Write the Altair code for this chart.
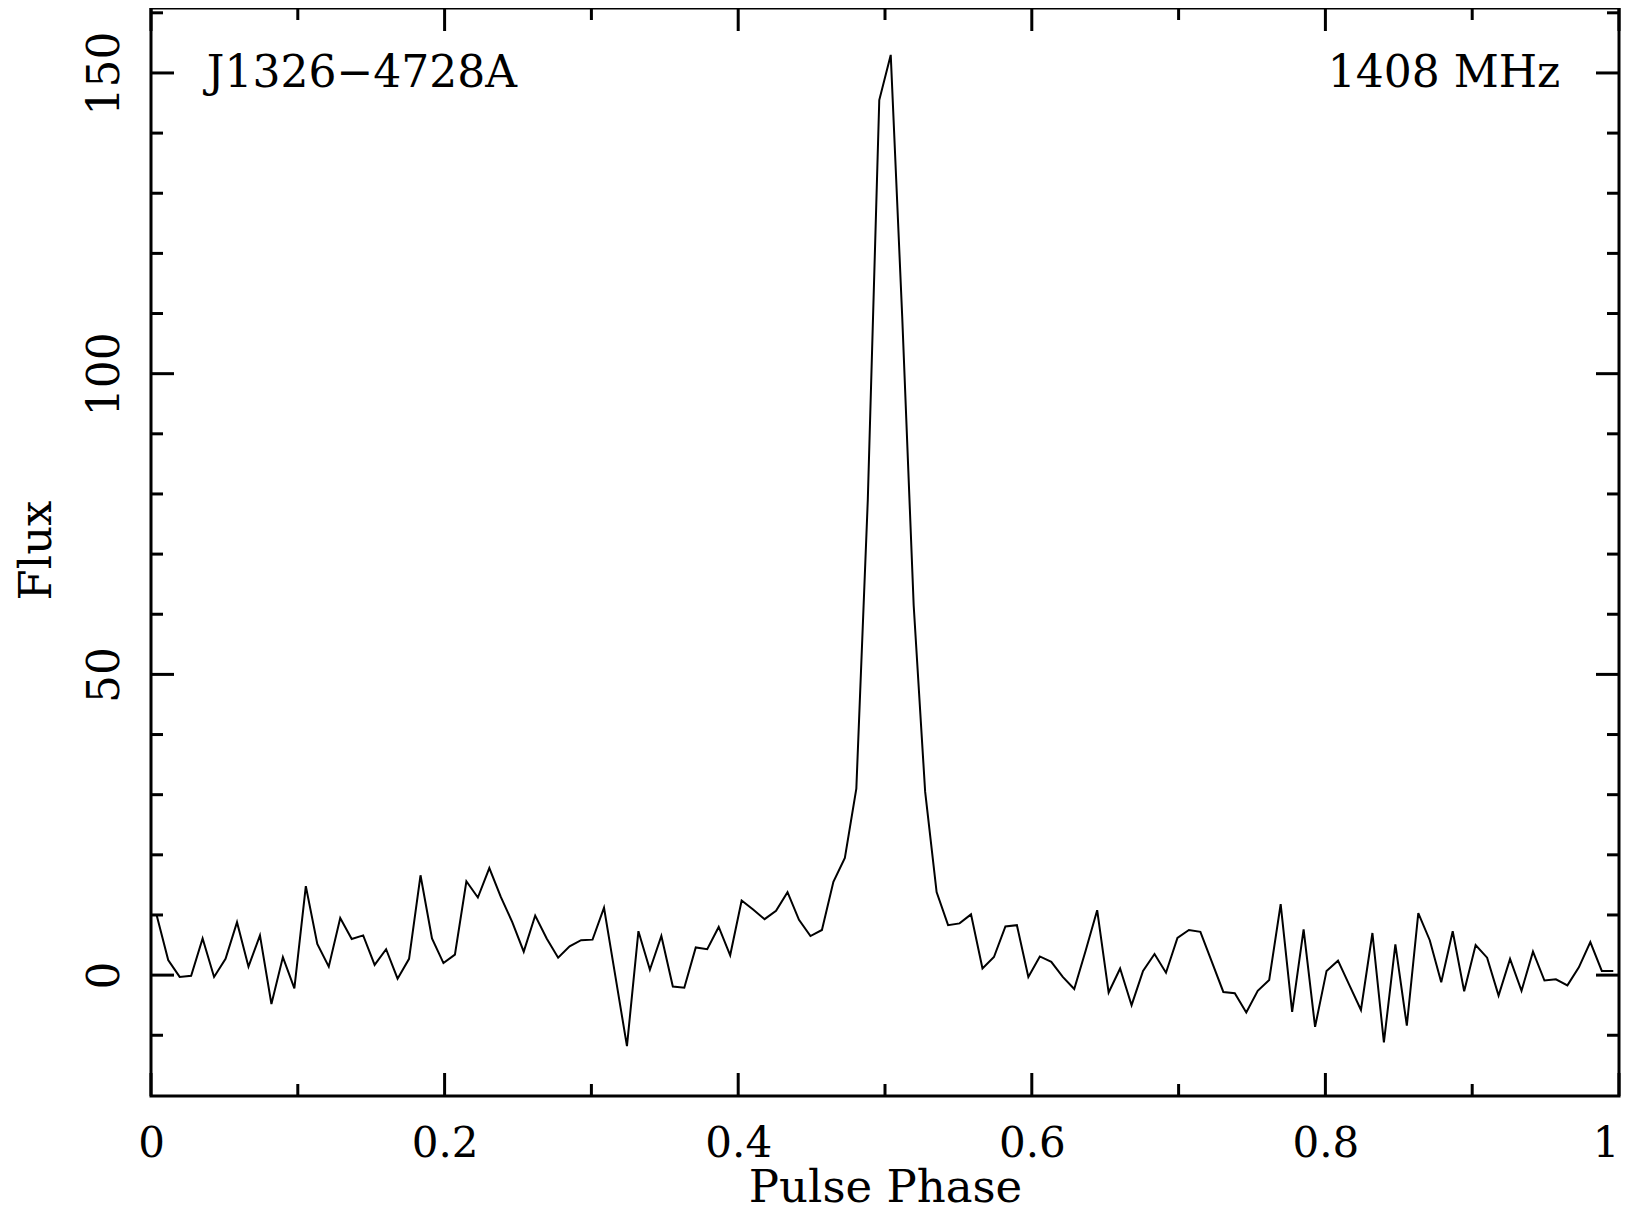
import altair as alt
import pandas as pd

# Pulse profile, 128 phase bins (flux values)
flux = [
    9.9, 2.5, -0.3, -0.1, 6.1, -0.3, 2.7, 8.8, 1.4, 6.6,
    -4.8, 3.0, -2.2, 14.8, 5.2, 1.4, 9.5, 6.0, 6.6, 1.7,
    4.3, -0.6, 2.7, 16.6, 6.1, 2.0, 3.4, 15.6, 12.9, 17.8,
    13.0, 8.8, 3.9, 9.9, 6.1, 2.9, 4.8, 5.8, 5.9, 11.2,
    -0.3, -11.8, 7.3, 0.9, 6.5, -1.9, -2.1, 4.6, 4.3, 8.0,
    3.3, 12.4, 10.9, 9.3, 10.7, 13.8, 9.2, 6.5, 7.5, 15.5,
    19.5, 31.0, 79.0, 145.5, 153.0, 109.5, 61.5, 30.5, 13.8, 8.3,
    8.6, 10.1, 1.1, 3.0, 8.1, 8.3, -0.3, 3.1, 2.2, -0.3,
    -2.3, 4.1, 10.8, -2.9, 1.1, -5.0, 0.7, 3.5, 0.4, 6.2,
    7.5, 7.2, 2.2, -2.8, -3.0, -6.2, -2.6, -0.8, 11.8, -6.1,
    7.6, -8.6, 0.7, 2.4, -1.7, -5.8, 7.0, -11.2, 5.1, -8.4,
    10.3, 5.8, -1.2, 7.3, -2.7, 5.0, 2.9, -3.4, 2.7, -2.6,
    3.9, -0.9, -0.7, -1.7, 1.3, 5.5, 0.7, 0.7,
]
n_bins = len(flux)
phase = [(i + 0.5) / n_bins for i in range(n_bins)]

x_major = [0, 0.2, 0.4, 0.6, 0.8, 1.0]
x_minor = [0.1, 0.3, 0.5, 0.7, 0.9]
y_major = [0, 50, 100, 150]
y_minor = [-10, 10, 20, 30, 40, 60, 70, 80, 90, 110, 120, 130, 140, 160]

labels_text = ["J1326\u22124728A", "1408 MHz"]
labels_x = [0.038, 0.960]
labels_y = [147.7, 147.7]

x_domain = [0, 1]
y_domain = [-20.1, 160.8]

W, H = 1468, 1088
FONT = "DejaVu Serif"
MAJOR, MINOR = 23, 12

xs = alt.Scale(domain=x_domain, nice=False, zero=False)
ys = alt.Scale(domain=y_domain, nice=False, zero=False)

profile = pd.DataFrame({"phase": phase, "flux": flux})

line = alt.Chart(profile).mark_line(color="black", strokeWidth=2).encode(
    x=alt.X("phase:Q", scale=xs,
            axis=alt.Axis(values=x_major, format="~g", title="Pulse Phase",
                          labelAlign=alt.condition("datum.value >= 1",
                                                   alt.value("right"),
                                                   alt.value("center")))),
    y=alt.Y("flux:Q", scale=ys,
            axis=alt.Axis(values=y_major, format="~g", title="Flux")),
)


def xticks(vals, length):
    df = pd.DataFrame({"phase": vals})
    base = alt.Chart(df).mark_rule(color="black", strokeWidth=3)
    bottom = base.encode(x=alt.X("phase:Q", scale=xs),
                         y=alt.value(H), y2=alt.value(H - length))
    top = base.encode(x=alt.X("phase:Q", scale=xs),
                      y=alt.value(0), y2=alt.value(length))
    return [bottom, top]


def yticks(vals, length):
    df = pd.DataFrame({"flux": vals})
    base = alt.Chart(df).mark_rule(color="black", strokeWidth=3)
    left = base.encode(y=alt.Y("flux:Q", scale=ys),
                       x=alt.value(0), x2=alt.value(length))
    right = base.encode(y=alt.Y("flux:Q", scale=ys),
                        x=alt.value(W), x2=alt.value(W - length))
    return [left, right]


ann_l = pd.DataFrame({"phase": labels_x[:1], "flux": labels_y[:1], "t": labels_text[:1]})
ann_r = pd.DataFrame({"phase": labels_x[1:], "flux": labels_y[1:], "t": labels_text[1:]})
ann_left = alt.Chart(ann_l).mark_text(
    align="left", baseline="alphabetic", font=FONT, fontSize=44, color="black"
).encode(x=alt.X("phase:Q", scale=xs), y=alt.Y("flux:Q", scale=ys), text="t:N")
ann_right = alt.Chart(ann_r).mark_text(
    align="right", baseline="alphabetic", font=FONT, fontSize=44, color="black"
).encode(x=alt.X("phase:Q", scale=xs), y=alt.Y("flux:Q", scale=ys), text="t:N")

layers = [line]
layers += xticks(x_major, MAJOR) + xticks(x_minor, MINOR)
layers += yticks(y_major, MAJOR) + yticks(y_minor, MINOR)
layers += [ann_left, ann_right]

chart = (
    alt.layer(*layers)
    .properties(
        width=W,
        height=H,
        autosize=alt.AutoSizeParams(type="none"),
        padding={"left": 143, "top": 0, "right": 6, "bottom": 109},
        background="white",
    )
    .configure_view(stroke="black", strokeWidth=3)
    .configure_axis(
        domain=False, ticks=False, tickSize=0, grid=False,
        labelFont=FONT, labelColor="black", labelOverlap=False,
        labelFlush=False,
        titleFont=FONT, titleFontWeight="normal", titleColor="black",
        titleAlign="center", titleBaseline="alphabetic",
    )
    .configure_axisX(
        labelFontSize=42, labelPadding=60, labelBaseline="alphabetic",
        titleFontSize=45, titleX=W / 2, titleY=105,
    )
    .configure_axisY(
        labelFontSize=44, labelAngle=270, labelAlign="center",
        labelBaseline="alphabetic", labelPadding=33,
        titleFontSize=45, titleAngle=270, titleX=-101, titleY=542,
    )
)

chart.save("out.html", embed_options={"renderer": "svg", "actions": False})
